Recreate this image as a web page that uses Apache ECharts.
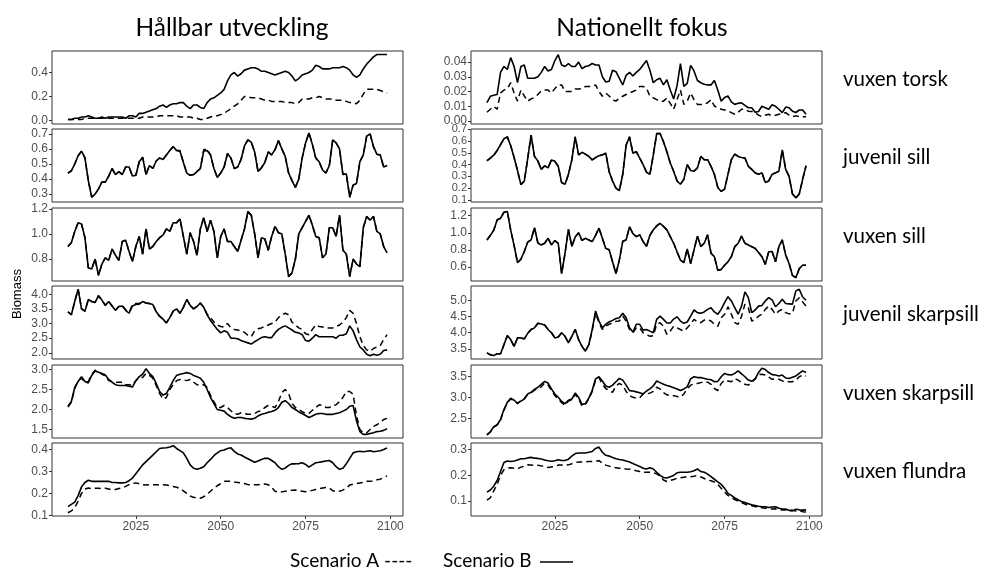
<!DOCTYPE html>
<html>
<head>
<meta charset="utf-8">
<script src="https://cdn.jsdelivr.net/npm/echarts@6/dist/echarts.min.js"></script>
<style>
  html, body { margin: 0; padding: 0; background: #fff; }
  #chart { width: 982px; height: 569px; }
</style>
</head>
<body>
<div id="chart"></div>
<script>
// Simulation years (annual steps)
const years = [2005,2006,2007,2008,2009,2010,2011,2012,2013,2014,2015,2016,2017,2018,2019,
  2020,2021,2022,2023,2024,2025,2026,2027,2028,2029,2030,2031,2032,2033,2034,2035,2036,2037,2038,2039,
  2040,2041,2042,2043,2044,2045,2046,2047,2048,2049,2050,2051,2052,2053,2054,2055,2056,2057,2058,2059,
  2060,2061,2062,2063,2064,2065,2066,2067,2068,2069,2070,2071,2072,2073,2074,2075,2076,2077,2078,2079,
  2080,2081,2082,2083,2084,2085,2086,2087,2088,2089,2090,2091,2092,2093,2094,2095,2096,2097,2098,2099];

const columnTitles = ['Hållbar utveckling', 'Nationellt fokus'];
const rowNames = ['vuxen torsk', 'juvenil sill', 'vuxen sill', 'juvenil skarpsill', 'vuxen skarpsill', 'vuxen flundra'];
const xTicks = [2025, 2050, 2075, 2100];

// ---- Hållbar utveckling ----
const huTorskA = [0.01,0.01,0.01,0.01,0.01, 0.02,0.02,0.02,0.02,0.02, 0.02,0.02,0.02,0.02,0.02,
  0.02,0.02,0.02,0.02,0.02, 0.02,0.02,0.03,0.03,0.03, 0.03,0.03,0.04,0.04,0.04,
  0.04,0.04,0.04,0.03,0.03, 0.03,0.03,0.02,0.02,0.01, 0.01,0.02,0.03,0.04,0.04,
  0.05,0.06,0.08,0.10,0.12, 0.14,0.17,0.20,0.20,0.19, 0.19,0.19,0.18,0.17,0.17,
  0.16,0.16,0.16,0.16,0.15, 0.15,0.15,0.14,0.15,0.18, 0.18,0.18,0.19,0.19,0.20,
  0.19,0.18,0.18,0.18,0.17, 0.17,0.17,0.16,0.15,0.15, 0.14,0.17,0.22,0.26,0.26,
  0.26,0.26,0.25,0.24,0.23];
const huTorskB = [0.01,0.01,0.02,0.02,0.03, 0.03,0.04,0.03,0.02,0.02, 0.03,0.02,0.03,0.03,0.03,
  0.03,0.03,0.02,0.04,0.04, 0.03,0.06,0.06,0.07,0.08, 0.09,0.10,0.12,0.13,0.11,
  0.13,0.14,0.14,0.15,0.15, 0.12,0.10,0.13,0.13,0.11, 0.10,0.15,0.18,0.19,0.21,
  0.23,0.26,0.33,0.38,0.40, 0.37,0.39,0.42,0.43,0.44, 0.44,0.43,0.41,0.41,0.40,
  0.39,0.38,0.39,0.40,0.41, 0.40,0.37,0.33,0.35,0.38, 0.39,0.40,0.42,0.46,0.45,
  0.43,0.43,0.43,0.44,0.44, 0.44,0.45,0.44,0.42,0.38, 0.36,0.38,0.43,0.47,0.50,
  0.53,0.55,0.55,0.55,0.55];
const huTorskTicks = [0.0, 0.2, 0.4];

const huJuvSillA = [0.44,0.455,0.50,0.555,0.585, 0.54,0.39,0.28,0.30,0.335, 0.38,0.38,0.42,0.47,0.43,
  0.45,0.43,0.48,0.48,0.42, 0.425,0.515,0.545,0.43,0.49, 0.47,0.52,0.54,0.53,0.56,
  0.59,0.615,0.59,0.59,0.51, 0.44,0.425,0.43,0.45,0.47, 0.595,0.60,0.56,0.47,0.41,
  0.44,0.48,0.57,0.54,0.47, 0.48,0.53,0.62,0.66,0.645, 0.58,0.45,0.475,0.51,0.58,
  0.56,0.595,0.655,0.60,0.55, 0.44,0.39,0.345,0.40,0.54, 0.64,0.705,0.63,0.54,0.515,
  0.46,0.44,0.49,0.66,0.64, 0.60,0.43,0.435,0.28,0.36, 0.37,0.515,0.56,0.685,0.70,
  0.615,0.565,0.56,0.48,0.49];
const huJuvSillB = [0.44,0.455,0.50,0.555,0.585, 0.54,0.39,0.28,0.30,0.335, 0.38,0.38,0.42,0.47,0.43,
  0.45,0.43,0.48,0.48,0.42, 0.425,0.515,0.545,0.43,0.49, 0.47,0.52,0.54,0.53,0.56,
  0.59,0.615,0.59,0.585,0.51, 0.44,0.425,0.43,0.45,0.47, 0.585,0.59,0.56,0.47,0.41,
  0.44,0.48,0.57,0.54,0.47, 0.48,0.53,0.62,0.66,0.645, 0.58,0.45,0.475,0.51,0.58,
  0.56,0.595,0.655,0.60,0.55, 0.44,0.39,0.345,0.40,0.54, 0.64,0.705,0.63,0.54,0.515,
  0.46,0.44,0.49,0.66,0.64, 0.60,0.43,0.435,0.28,0.36, 0.37,0.515,0.56,0.685,0.70,
  0.615,0.565,0.56,0.48,0.49];
const huJuvSillTicks = [0.3, 0.4, 0.5, 0.6, 0.7];

const huVuxSillA = [0.90,0.93,1.02,1.09,1.08, 0.97,0.73,0.72,0.80,0.67, 0.76,0.81,0.79,0.88,0.83,
  0.79,0.94,0.95,0.86,0.78, 0.90,0.98,0.84,1.04,0.88, 0.90,0.94,0.97,0.99,1.04,
  1.02,1.09,1.09,1.12,0.98, 0.84,1.01,0.94,0.83,1.04, 1.13,1.02,1.11,1.02,0.81,
  0.98,1.04,0.94,0.94,0.90, 0.86,0.95,1.04,1.17,1.15, 1.00,0.81,0.97,0.96,0.87,
  0.98,1.06,1.01,1.00,0.84, 0.66,0.69,0.80,1.00,1.05, 1.10,1.15,1.07,0.98,0.97,
  0.81,0.84,1.05,1.05,0.98, 1.15,0.87,0.84,0.66,0.80, 0.76,0.74,1.05,1.14,1.11,
  1.14,1.02,1.00,0.90,0.86];
const huVuxSillB = [0.90,0.93,1.02,1.09,1.08, 0.97,0.73,0.72,0.80,0.67, 0.76,0.81,0.79,0.88,0.83,
  0.79,0.94,0.95,0.86,0.78, 0.90,0.98,0.84,1.04,0.88, 0.90,0.94,0.97,0.99,1.04,
  1.02,1.09,1.09,1.12,0.98, 0.84,1.01,0.94,0.83,1.04, 1.13,1.02,1.11,1.02,0.81,
  0.98,1.04,0.94,0.94,0.90, 0.86,0.95,1.04,1.18,1.15, 1.00,0.81,0.97,0.96,0.87,
  0.98,1.06,1.01,1.00,0.84, 0.66,0.69,0.80,1.00,1.05, 1.10,1.15,1.07,0.98,0.97,
  0.81,0.84,1.05,1.05,0.98, 1.15,0.87,0.84,0.66,0.80, 0.76,0.74,1.05,1.14,1.11,
  1.14,1.02,1.00,0.90,0.85];
const huVuxSillTicks = [0.8, 1.0, 1.2];

const huJuvSkarpA = [3.4,3.3,3.75,4.17,3.5, 3.42,3.82,3.75,3.72,3.95, 3.8,3.62,3.75,3.6,3.45,
  3.58,3.62,3.47,3.38,3.65, 3.68,3.68,3.75,3.7,3.68, 3.65,3.4,3.25,3.15,3.02,
  3.2,3.42,3.5,3.35,3.55, 3.82,3.62,3.5,3.58,3.7, 3.55,3.32,3.2,3.05,2.95,
  2.9,2.88,3.0,2.85,2.8, 2.78,2.75,2.7,2.6,2.55, 2.75,2.82,2.85,2.9,2.95,
  3.0,3.05,3.2,3.3,3.35, 3.3,3.05,2.95,2.85,2.8, 2.65,2.62,2.8,2.95,2.9,
  2.88,2.85,2.85,2.85,2.9, 2.95,3.05,3.2,3.45,3.35, 3.0,2.55,2.25,2.1,2.05,
  2.15,2.2,2.25,2.45,2.62];
const huJuvSkarpB = [3.4,3.3,3.75,4.17,3.5, 3.42,3.82,3.75,3.72,3.95, 3.8,3.62,3.75,3.6,3.45,
  3.58,3.6,3.45,3.35,3.6, 3.65,3.66,3.75,3.7,3.68, 3.65,3.4,3.25,3.15,3.02,
  3.2,3.42,3.5,3.35,3.55, 3.82,3.62,3.5,3.58,3.7, 3.55,3.3,3.1,2.95,2.8,
  2.68,2.75,2.7,2.5,2.5, 2.48,2.42,2.38,2.34,2.3, 2.38,2.45,2.52,2.55,2.52,
  2.52,2.68,2.8,2.87,2.92, 2.85,2.78,2.7,2.68,2.62, 2.42,2.4,2.5,2.62,2.55,
  2.55,2.55,2.55,2.55,2.5, 2.6,2.6,2.65,2.92,2.75, 2.45,2.2,2.1,1.95,1.9,
  1.95,1.92,1.95,2.08,2.1];
const huJuvSkarpTicks = [2.0, 2.5, 3.0, 3.5, 4.0];

const huVuxSkarpA = [2.06,2.18,2.52,2.72,2.78, 2.68,2.7,2.88,2.98,2.95, 2.88,2.84,2.72,2.7,2.68,
  2.68,2.68,2.62,2.62,2.6, 2.72,2.8,2.8,2.9,2.85, 2.78,2.6,2.4,2.26,2.3,
  2.5,2.62,2.72,2.75,2.74, 2.72,2.75,2.68,2.62,2.6, 2.62,2.55,2.35,2.2,2.05,
  2.05,2.1,2.05,1.97,1.9, 1.88,1.92,1.9,1.88,1.88, 1.9,1.95,1.97,2.05,2.1,
  2.08,2.05,2.2,2.42,2.5, 2.4,2.15,2.05,2.0,1.95, 1.9,1.9,1.98,2.05,2.12,
  2.1,2.05,2.05,2.1,2.12, 2.2,2.3,2.45,2.45,2.38, 1.85,1.5,1.42,1.42,1.5,
  1.58,1.62,1.68,1.75,1.78];
const huVuxSkarpB = [2.08,2.2,2.55,2.7,2.82, 2.7,2.66,2.85,2.96,2.93, 2.9,2.86,2.75,2.68,2.62,
  2.6,2.6,2.6,2.58,2.56, 2.72,2.82,2.88,3.02,2.9, 2.82,2.65,2.45,2.36,2.4,
  2.55,2.72,2.85,2.88,2.9, 2.92,2.9,2.85,2.82,2.78, 2.68,2.5,2.3,2.15,2.0,
  1.98,1.96,1.88,1.82,1.78, 1.8,1.8,1.78,1.77,1.76, 1.78,1.84,1.88,1.9,1.93,
  1.95,1.98,2.05,2.18,2.22, 2.15,2.05,2.0,1.94,1.9, 1.85,1.8,1.84,1.88,1.9,
  1.9,1.88,1.88,1.88,1.9, 1.92,1.96,2.0,2.08,2.1, 1.72,1.45,1.38,1.38,1.4,
  1.42,1.45,1.46,1.48,1.52];
const huVuxSkarpTicks = [1.5, 2.0, 2.5, 3.0];

const huFlundraA = [0.112,0.12,0.135,0.165,0.2, 0.22,0.225,0.222,0.224,0.224, 0.222,0.224,0.22,0.216,0.218,
  0.222,0.225,0.232,0.24,0.245, 0.248,0.244,0.24,0.238,0.24, 0.24,0.24,0.238,0.24,0.238,
  0.236,0.232,0.228,0.222,0.212, 0.2,0.188,0.182,0.18,0.178, 0.185,0.196,0.21,0.225,0.235,
  0.245,0.255,0.255,0.255,0.252, 0.25,0.248,0.245,0.24,0.24, 0.24,0.24,0.242,0.243,0.24,
  0.228,0.21,0.205,0.207,0.21, 0.212,0.214,0.216,0.212,0.21, 0.208,0.21,0.214,0.218,0.222,
  0.225,0.227,0.225,0.212,0.208, 0.21,0.215,0.225,0.238,0.242, 0.245,0.248,0.25,0.255,0.255,
  0.258,0.262,0.265,0.272,0.28];
const huFlundraB = [0.14,0.15,0.16,0.19,0.23, 0.25,0.26,0.255,0.255,0.255, 0.255,0.255,0.255,0.25,0.25,
  0.248,0.248,0.25,0.258,0.27, 0.29,0.31,0.33,0.345,0.36, 0.375,0.39,0.405,0.407,0.408,
  0.412,0.418,0.405,0.395,0.385, 0.36,0.33,0.315,0.31,0.315, 0.322,0.34,0.355,0.372,0.385,
  0.395,0.398,0.405,0.408,0.392, 0.38,0.375,0.366,0.358,0.35, 0.342,0.348,0.355,0.36,0.36,
  0.35,0.34,0.322,0.31,0.315, 0.328,0.335,0.335,0.336,0.34, 0.332,0.32,0.33,0.34,0.342,
  0.345,0.348,0.35,0.34,0.322, 0.31,0.315,0.335,0.36,0.385, 0.39,0.392,0.39,0.392,0.395,
  0.39,0.392,0.395,0.4,0.407];
const huFlundraTicks = [0.1, 0.2, 0.3, 0.4];

// ---- Nationellt fokus ----
const nfTorskA = [0.006,0.008,0.010,0.008,0.019, 0.021,0.022,0.026,0.019,0.0135, 0.021,0.017,0.0135,0.015,0.016,
  0.018,0.0205,0.021,0.021,0.019, 0.022,0.0245,0.0245,0.020,0.020, 0.020,0.0217,0.0217,0.022,0.0234,
  0.0234,0.0234,0.0245,0.020,0.0168, 0.019,0.017,0.0145,0.0135,0.0155, 0.0168,0.018,0.019,0.020,0.021,
  0.0234,0.0234,0.0223,0.0168,0.0157, 0.0145,0.0135,0.0135,0.0157,0.012, 0.008,0.0145,0.021,0.0113,0.0135,
  0.019,0.0145,0.0113,0.0113,0.0113, 0.0124,0.0145,0.0102,0.009,0.008, 0.0075,0.007,0.0057,0.0046,0.006,
  0.008,0.008,0.0067,0.0065,0.0057, 0.004,0.003,0.004,0.0046,0.0035, 0.004,0.0046,0.0052,0.0057,0.004,
  0.003,0.0035,0.003,0.003,0.003];
const nfTorskB = [0.0125,0.0168,0.0175,0.018,0.033, 0.037,0.035,0.043,0.037,0.026, 0.037,0.038,0.029,0.029,0.029,
  0.030,0.033,0.037,0.034,0.035, 0.041,0.045,0.038,0.037,0.039, 0.037,0.037,0.040,0.0355,0.037,
  0.0375,0.039,0.038,0.038,0.030, 0.0265,0.027,0.0345,0.0335,0.029, 0.0245,0.031,0.033,0.0305,0.033,
  0.035,0.038,0.041,0.0345,0.026, 0.028,0.029,0.0245,0.028,0.021, 0.015,0.024,0.039,0.0235,0.0255,
  0.0378,0.034,0.0275,0.026,0.025, 0.0245,0.0245,0.0275,0.021,0.0135, 0.016,0.017,0.013,0.0113,0.012,
  0.0124,0.0106,0.009,0.009,0.006, 0.0065,0.010,0.009,0.008,0.011, 0.010,0.008,0.0057,0.0095,0.009,
  0.0067,0.0058,0.0075,0.0075,0.0046];
const nfTorskTicks = [0.00, 0.01, 0.02, 0.03, 0.04];

const nfJuvSillA = [0.433,0.455,0.48,0.52,0.57, 0.62,0.636,0.56,0.46,0.35, 0.23,0.26,0.45,0.65,0.47,
  0.43,0.36,0.39,0.372,0.44, 0.428,0.386,0.247,0.233,0.317, 0.44,0.636,0.483,0.505,0.489,
  0.47,0.44,0.46,0.475,0.483, 0.497,0.34,0.26,0.20,0.178, 0.317,0.567,0.636,0.497,0.51,
  0.456,0.40,0.335,0.317,0.48, 0.664,0.664,0.594,0.51,0.414, 0.344,0.26,0.233,0.275,0.40,
  0.35,0.344,0.372,0.47,0.442, 0.442,0.386,0.317,0.206,0.172, 0.192,0.317,0.442,0.489,0.47,
  0.461,0.456,0.386,0.36,0.33, 0.317,0.33,0.247,0.261,0.317, 0.33,0.344,0.525,0.36,0.30,
  0.15,0.117,0.15,0.275,0.39];
const nfJuvSillB = [0.433,0.455,0.48,0.52,0.57, 0.62,0.636,0.56,0.46,0.35, 0.23,0.26,0.45,0.65,0.47,
  0.43,0.36,0.39,0.372,0.44, 0.428,0.386,0.247,0.233,0.317, 0.44,0.636,0.483,0.505,0.489,
  0.47,0.44,0.46,0.475,0.483, 0.497,0.34,0.26,0.20,0.178, 0.317,0.567,0.636,0.497,0.51,
  0.456,0.40,0.335,0.317,0.48, 0.664,0.664,0.594,0.51,0.414, 0.344,0.26,0.233,0.275,0.40,
  0.35,0.344,0.372,0.47,0.442, 0.442,0.386,0.317,0.206,0.172, 0.192,0.317,0.442,0.489,0.47,
  0.461,0.456,0.386,0.36,0.33, 0.317,0.33,0.247,0.261,0.317, 0.33,0.344,0.525,0.36,0.30,
  0.15,0.117,0.15,0.275,0.39];
const nfJuvSillTicks = [0.1, 0.2, 0.3, 0.4, 0.5, 0.6, 0.7];

const nfVuxSillA = [0.916,0.97,1.03,1.15,1.17, 1.24,1.25,1.03,0.85,0.65, 0.69,0.78,0.89,0.916,1.06,
  0.88,0.857,0.877,0.935,0.857, 0.908,0.877,0.52,0.76,1.04, 0.84,0.95,1.0,0.91,0.935,
  0.916,0.896,0.97,1.054,0.935, 0.817,0.80,0.66,0.52,0.68, 0.90,0.916,1.07,0.99,0.955,
  0.975,0.896,0.84,0.97,1.034, 1.08,1.11,1.074,1.034,0.955, 0.877,0.778,0.68,0.65,0.81,
  0.64,0.80,0.96,0.84,0.877, 0.975,0.76,0.72,0.56,0.569, 0.62,0.66,0.72,0.837,0.877,
  0.96,0.877,0.857,0.837,0.817, 0.77,0.72,0.63,0.778,0.78, 0.66,0.837,0.916,0.74,0.64,
  0.50,0.474,0.58,0.62,0.62];
const nfVuxSillB = [0.916,0.97,1.03,1.15,1.17, 1.24,1.25,1.03,0.85,0.65, 0.69,0.78,0.89,0.916,1.06,
  0.88,0.857,0.877,0.935,0.857, 0.908,0.877,0.52,0.76,1.04, 0.84,0.95,1.0,0.91,0.935,
  0.916,0.896,0.97,1.054,0.935, 0.817,0.80,0.66,0.52,0.68, 0.90,0.916,1.07,0.99,0.955,
  0.975,0.896,0.84,0.97,1.034, 1.08,1.11,1.074,1.034,0.955, 0.877,0.778,0.68,0.65,0.81,
  0.64,0.80,0.96,0.84,0.877, 0.975,0.76,0.72,0.56,0.569, 0.62,0.66,0.72,0.837,0.877,
  0.96,0.877,0.857,0.837,0.817, 0.77,0.72,0.63,0.778,0.78, 0.66,0.837,0.916,0.74,0.64,
  0.50,0.474,0.58,0.62,0.62];
const nfVuxSillTicks = [0.6, 0.8, 1.0, 1.2];

const nfJuvSkarpA = [3.38,3.32,3.3,3.35,3.35, 3.63,3.91,3.79,3.58,3.84, 3.84,3.81,3.98,4.1,4.15,
  4.29,4.27,4.24,4.1,4.0, 3.84,3.87,4.0,3.89,3.69, 3.89,4.1,3.79,3.58,3.43,
  3.63,4.05,4.6,4.31,4.1, 4.2,4.26,4.3,4.35,4.36, 4.51,4.36,4.1,4.0,4.15,
  4.15,4.0,3.95,3.89,3.91, 4.26,4.31,4.2,3.95,4.05, 4.2,4.15,4.1,4.05,4.15,
  4.26,4.41,4.33,4.31,4.39, 4.41,4.36,4.26,4.2,4.46, 4.57,4.8,4.57,4.31,4.26,
  4.51,4.88,4.77,4.36,4.41, 4.51,4.57,4.72,4.82,4.72, 4.57,4.67,4.72,4.62,4.58,
  4.6,4.98,5.08,4.95,4.82];
const nfJuvSkarpB = [3.38,3.32,3.3,3.35,3.35, 3.63,3.91,3.79,3.58,3.84, 3.84,3.81,3.98,4.1,4.15,
  4.29,4.27,4.24,4.1,4.0, 3.84,3.87,4.0,3.89,3.69, 3.89,4.1,3.79,3.58,3.43,
  3.63,4.1,4.67,4.36,4.15, 4.26,4.33,4.38,4.44,4.46, 4.6,4.46,4.15,4.02,4.26,
  4.26,4.08,4.1,4.05,4.0, 4.41,4.51,4.41,4.3,4.3, 4.42,4.49,4.36,4.29,4.33,
  4.51,4.7,4.62,4.6,4.64, 4.72,4.77,4.64,4.57,4.72, 4.93,5.11,4.98,4.77,4.57,
  4.82,5.26,5.08,4.62,4.7, 4.82,4.84,4.98,5.08,5.01, 4.8,4.9,5.03,4.9,4.89,
  4.88,5.29,5.34,5.1,5.0];
const nfJuvSkarpTicks = [3.5, 4.0, 4.5, 5.0];

const nfVuxSkarpA = [2.12,2.18,2.3,2.36,2.47, 2.7,2.88,2.97,2.93,2.86, 2.93,2.98,3.08,3.12,3.18,
  3.22,3.26,3.35,3.3,3.17, 3.05,2.97,2.88,2.82,2.92, 2.95,3.08,2.98,2.8,2.84,
  2.97,3.15,3.42,3.48,3.32, 3.22,3.17,3.13,3.28,3.34, 3.3,3.15,3.05,3.01,2.99,
  3.0,3.09,3.09,3.11,3.15, 3.25,3.21,3.12,3.07,3.05, 3.05,3.03,3.01,3.09,3.21,
  3.30,3.33,3.34,3.36,3.38, 3.37,3.32,3.22,3.17,3.34, 3.42,3.4,3.38,3.46,3.42,
  3.36,3.32,3.3,3.37,3.45, 3.55,3.56,3.54,3.49,3.44, 3.45,3.44,3.40,3.38,3.38,
  3.38,3.42,3.5,3.54,3.52];
const nfVuxSkarpB = [2.11,2.19,2.31,2.35,2.48, 2.72,2.89,2.99,2.94,2.87, 2.92,2.97,3.09,3.13,3.2,
  3.25,3.32,3.39,3.35,3.21, 3.09,3.01,2.91,2.86,2.94, 2.97,3.11,3.01,2.84,2.86,
  2.99,3.17,3.45,3.5,3.4, 3.28,3.25,3.3,3.38,3.46, 3.42,3.3,3.17,3.16,3.14,
  3.12,3.09,3.16,3.21,3.28, 3.40,3.36,3.32,3.29,3.27, 3.24,3.21,3.17,3.21,3.26,
  3.45,3.5,3.48,3.48,3.46, 3.44,3.43,3.38,3.39,3.5, 3.58,3.55,3.54,3.58,3.64,
  3.57,3.5,3.42,3.39,3.45, 3.6,3.70,3.67,3.6,3.55, 3.54,3.52,3.54,3.47,3.46,
  3.49,3.52,3.58,3.64,3.6];
const nfVuxSkarpTicks = [2.5, 3.0, 3.5];

const nfFlundraA = [0.104,0.113,0.14,0.165,0.2, 0.222,0.228,0.23,0.228,0.225, 0.232,0.236,0.241,0.24,0.239,
  0.239,0.237,0.234,0.231,0.233, 0.235,0.24,0.24,0.239,0.241, 0.245,0.25,0.252,0.252,0.253,
  0.254,0.254,0.256,0.257,0.248, 0.24,0.236,0.232,0.23,0.228, 0.227,0.225,0.224,0.222,0.218,
  0.215,0.212,0.212,0.212,0.21, 0.206,0.198,0.182,0.176,0.18, 0.184,0.189,0.191,0.193,0.195,
  0.195,0.197,0.2,0.194,0.188, 0.182,0.179,0.174,0.165,0.15, 0.135,0.122,0.113,0.106,0.1,
  0.094,0.088,0.084,0.082,0.079, 0.076,0.074,0.072,0.07,0.069, 0.07,0.068,0.065,0.065,0.067,
  0.064,0.061,0.061,0.059,0.058];
const nfFlundraB = [0.135,0.143,0.158,0.18,0.215, 0.25,0.256,0.254,0.256,0.26, 0.265,0.265,0.268,0.27,0.267,
  0.266,0.264,0.26,0.257,0.255, 0.257,0.261,0.258,0.258,0.263, 0.275,0.285,0.287,0.287,0.287,
  0.29,0.293,0.305,0.31,0.29, 0.278,0.275,0.27,0.265,0.262, 0.26,0.256,0.252,0.246,0.24,
  0.235,0.228,0.225,0.23,0.225, 0.212,0.2,0.192,0.19,0.195, 0.2,0.21,0.212,0.212,0.212,
  0.214,0.218,0.225,0.215,0.212, 0.205,0.195,0.185,0.175,0.165, 0.15,0.13,0.122,0.112,0.105,
  0.098,0.094,0.09,0.086,0.083, 0.08,0.078,0.078,0.075,0.077, 0.078,0.072,0.069,0.069,0.064,
  0.062,0.068,0.066,0.065,0.066];
const nfFlundraTicks = [0.1, 0.2, 0.3];

// Facet layout: column 0 = Hållbar utveckling, column 1 = Nationellt fokus
const panels = [
  { col: 0, row: 0, a: huTorskA,    b: huTorskB,    ticks: huTorskTicks,    min: -0.028, max: 0.579, dec: 1 },
  { col: 0, row: 1, a: huJuvSillA,  b: huJuvSillB,  ticks: huJuvSillTicks,  min: 0.248,  max: 0.732, dec: 1 },
  { col: 0, row: 2, a: huVuxSillA,  b: huVuxSillB,  ticks: huVuxSillTicks,  min: 0.625,  max: 1.207, dec: 1 },
  { col: 0, row: 3, a: huJuvSkarpA, b: huJuvSkarpB, ticks: huJuvSkarpTicks, min: 1.79,   max: 4.28,  dec: 1 },
  { col: 0, row: 4, a: huVuxSkarpA, b: huVuxSkarpB, ticks: huVuxSkarpTicks, min: 1.29,   max: 3.11,  dec: 1 },
  { col: 0, row: 5, a: huFlundraA,  b: huFlundraB,  ticks: huFlundraTicks,  min: 0.097,  max: 0.43,  dec: 1 },
  { col: 1, row: 0, a: nfTorskA,    b: nfTorskB,    ticks: nfTorskTicks,    min: -0.002, max: 0.0475, dec: 2 },
  { col: 1, row: 1, a: nfJuvSillA,  b: nfJuvSillB,  ticks: nfJuvSillTicks,  min: 0.082,  max: 0.703, dec: 1, size: 11 },
  { col: 1, row: 2, a: nfVuxSillA,  b: nfVuxSillB,  ticks: nfVuxSillTicks,  min: 0.435,  max: 1.29,  dec: 1 },
  { col: 1, row: 3, a: nfJuvSkarpA, b: nfJuvSkarpB, ticks: nfJuvSkarpTicks, min: 3.19,   max: 5.44,  dec: 1 },
  { col: 1, row: 4, a: nfVuxSkarpA, b: nfVuxSkarpB, ticks: nfVuxSkarpTicks, min: 2.04,   max: 3.78,  dec: 1 },
  { col: 1, row: 5, a: nfFlundraA,  b: nfFlundraB,  ticks: nfFlundraTicks,  min: 0.042,  max: 0.326, dec: 1 }
];

const colLeft = [52, 471];
const rowTop = [51, 129, 208, 286, 365, 443];
const panelW = 351;
const panelH = 73;
const tickFont = 'Liberation Sans, Arial, sans-serif';
const headFont = 'Lato, "Open Sans", sans-serif';
const labelGrey = '#4D4D4D';

const pairs = (vals) => years.map((y, i) => [y, vals[i]]);

const grids = [], xAxes = [], yAxes = [], series = [];
panels.forEach((p, i) => {
  const bottomRow = p.row === 5;
  grids.push({
    left: colLeft[p.col], top: rowTop[p.row], width: panelW, height: panelH,
    show: true, borderColor: '#333', borderWidth: 1, backgroundColor: '#fff'
  });
  xAxes.push({
    type: 'value', gridIndex: i, min: 2000.3, max: 2103.7,
    splitLine: { show: false }, axisLine: { show: false },
    axisTick: { show: bottomRow, customValues: xTicks, length: 3, lineStyle: { color: '#333' } },
    axisLabel: { show: bottomRow, customValues: xTicks, fontSize: 12, color: labelGrey,
                 fontFamily: tickFont, margin: 5, formatter: (v) => String(v) }
  });
  yAxes.push({
    type: 'value', gridIndex: i, min: p.min, max: p.max,
    splitLine: { show: false }, axisLine: { show: false },
    axisTick: { show: true, customValues: p.ticks, length: 3, lineStyle: { color: '#333' } },
    axisLabel: { customValues: p.ticks, fontSize: p.size || 12, color: labelGrey, fontFamily: tickFont,
                 margin: 4, showMinLabel: true, showMaxLabel: true, hideOverlap: false,
                 formatter: (v) => Number(v).toFixed(p.dec) }
  });
  series.push({
    name: 'Scenario A', type: 'line', xAxisIndex: i, yAxisIndex: i, data: pairs(p.a),
    showSymbol: false, symbol: 'none', z: 2,
    lineStyle: { color: '#000', width: 1.5, type: [6, 4] }
  });
  series.push({
    name: 'Scenario B', type: 'line', xAxisIndex: i, yAxisIndex: i, data: pairs(p.b),
    showSymbol: false, symbol: 'none', z: 3,
    lineStyle: { color: '#000', width: 1.6 }
  });
});

function label(text, x, y, size, align, extra) {
  return Object.assign({
    type: 'text', x: x, y: y, silent: true,
    style: {
      text: text, fill: '#000', fontSize: size, fontFamily: headFont,
      align: align, verticalAlign: 'middle', textAlign: align, textVerticalAlign: 'middle'
    }
  }, extra || {});
}

const graphics = [
  label(columnTitles[0], 232, 28, 24.5, 'center'),
  label(columnTitles[1], 642, 28, 24.5, 'center'),
  label('Biomass', 17, 294, 13, 'center', { rotation: Math.PI / 2 }),
  label('Scenario A ----', 290, 561, 19, 'left'),
  label('Scenario B', 443, 561, 19, 'left'),
  // solid legend key after "Scenario B"
  { type: 'line', silent: true, shape: { x1: 540, y1: 562, x2: 573, y2: 562 },
    style: { stroke: '#000', lineWidth: 1.3 } }
];
rowNames.forEach((name, r) => {
  graphics.push(label(name, 843, rowTop[r] + 28, 20.5, 'left'));
});
graphics[2].style.fontFamily = tickFont;

const chart = echarts.init(document.getElementById('chart'));
chart.setOption({
  animation: false,
  backgroundColor: '#fff',
  grid: grids,
  xAxis: xAxes,
  yAxis: yAxes,
  series: series,
  graphic: graphics
});
</script>
</body>
</html>
